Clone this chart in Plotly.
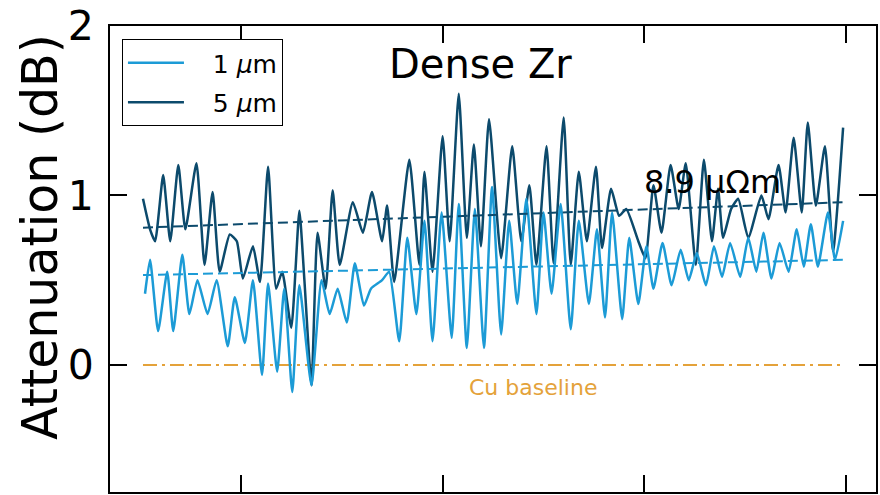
import plotly.graph_objects as go

# Frequency sweep (GHz) and measured attenuation (dB) for dense Zr lines
freq_1um = [10.5, 11.0, 11.8, 12.7, 13.3, 14.2, 14.9, 15.7, 16.7, 17.6, 18.7, 19.4, 20.4, 21.2,
            22.1, 22.7, 23.6, 24.3, 25.1, 25.8, 27.0, 28.0, 28.8, 29.6, 30.5, 31.3, 32.2, 32.9,
            34.0, 34.7, 35.7, 36.5, 37.4, 38.2, 39.0, 39.9, 40.9, 41.6, 42.4, 43.2, 44.1, 44.9,
            45.8, 46.6, 47.4, 48.3, 49.3, 50.0, 50.8, 51.7, 52.7, 53.5, 54.5, 55.3, 56.1, 56.8,
            57.8, 58.5, 59.4, 60.2, 60.9, 61.8, 62.7, 63.6, 64.4, 65.2, 66.1, 66.9, 67.7, 68.5,
            69.5, 70.3, 71.1, 71.8, 72.6, 73.4, 74.3, 75.1, 75.8, 76.5, 77.2, 78.2, 78.9, 79.7]
atten_1um = [0.42, 0.62, 0.20, 0.55, 0.20, 0.65, 0.30, 0.50, 0.30, 0.50, 0.11, 0.40, 0.13, 0.50,
             -0.06, 0.48, -0.04, 0.45, -0.16, 0.47, -0.12, 0.50, 0.30, 0.45, 0.25, 0.60, 0.35, 0.45,
             0.50, 0.55, 0.14, 0.75, 0.30, 0.85, 0.14, 0.90, 0.16, 0.95, 0.10, 0.92, 0.10, 1.05,
             0.18, 0.85, 0.36, 0.98, 0.30, 0.90, 0.42, 0.95, 0.21, 0.85, 0.36, 0.80, 0.28, 0.90,
             0.27, 0.75, 0.36, 0.70, 0.45, 0.72, 0.47, 0.68, 0.50, 0.66, 0.47, 0.70, 0.52, 0.72,
             0.52, 0.75, 0.55, 0.78, 0.51, 0.72, 0.55, 0.80, 0.58, 0.83, 0.58, 0.90, 0.62, 0.85]

freq_5um = [10.3, 11.0, 11.5, 12.3, 13.0, 13.8, 14.5, 15.6, 16.4, 17.2, 17.9, 18.9, 19.6, 20.2,
            21.2, 21.9, 22.7, 23.5, 24.1, 25.0, 25.8, 26.3, 27.0, 27.6, 28.4, 29.1, 29.8, 31.1,
            32.1, 33.0, 34.0, 34.5, 35.2, 36.7, 37.7, 38.2, 39.0, 40.0, 40.7, 41.6, 42.4, 43.1,
            43.8, 44.6, 45.8, 46.9, 47.8, 48.6, 49.3, 50.3, 51.0, 52.0, 52.7, 53.5, 54.3, 55.2,
            55.8, 56.7, 57.5, 58.2, 59.4, 60.1, 60.9, 61.7, 62.6, 63.4, 64.1, 65.1, 65.9, 66.7,
            67.3, 67.8, 68.6, 69.3, 70.3, 71.6, 72.3, 73.3, 74.0, 74.8, 75.6, 76.2, 77.0, 77.9,
            78.7, 79.7]
atten_5um = [0.98, 0.80, 0.73, 1.12, 0.73, 1.18, 0.80, 1.19, 0.59, 1.02, 0.55, 0.77, 0.73, 0.51,
             0.70, 0.49, 1.17, 0.45, 0.55, 0.22, 0.91, 0.50, -0.12, 0.78, 0.45, 1.03, 0.59, 0.96,
             0.78, 1.02, 0.73, 0.94, 0.49, 1.21, 0.59, 1.14, 0.55, 1.35, 0.73, 1.60, 0.75, 1.30,
             0.70, 1.45, 0.63, 1.29, 0.73, 1.06, 0.59, 1.29, 0.60, 1.46, 0.59, 1.14, 0.73, 1.17,
             0.69, 1.04, 0.88, 0.92, 0.73, 0.63, 1.06, 0.78, 1.18, 0.92, 1.19, 0.59, 1.21, 0.73,
             1.04, 0.75, 0.92, 0.98, 0.75, 1.00, 0.86, 1.18, 0.90, 1.34, 0.90, 1.43, 0.94, 1.29,
             0.67, 1.40]

# Linear fits (end points) and the Cu reference level
fit_freq = [10.3, 79.7]
fit_1um = [0.53, 0.62]
fit_5um = [0.81, 0.96]
cu_level = [0.0, 0.0]

C_1UM = "#1c9bd6"
C_5UM = "#0c4a6c"
C_CU = "#e4a23a"
FONT = "DejaVu Sans"
NB = "\u00a0"

fig = go.Figure()

fig.add_trace(go.Scatter(x=fit_freq, y=cu_level, mode="lines", showlegend=False,
                         line=dict(color=C_CU, width=2, dash="14px,5px,3px,5px")))
fig.add_trace(go.Scatter(x=freq_5um, y=atten_5um, mode="lines", name=NB * 3 + "5 <i>μ</i>m",
                         legendrank=2, legendgroup="b",
                         line=dict(color=C_5UM, width=2.5, shape="spline", smoothing=0.5)))
fig.add_trace(go.Scatter(x=freq_1um, y=atten_1um, mode="lines", name=NB * 3 + "1 <i>μ</i>m",
                         legendrank=1, legendgroup="a",
                         line=dict(color=C_1UM, width=2.5, shape="spline", smoothing=0.5)))
fig.add_trace(go.Scatter(x=fit_freq, y=fit_5um, mode="lines", showlegend=False,
                         line=dict(color=C_5UM, width=2, dash="10px,5px")))
fig.add_trace(go.Scatter(x=fit_freq, y=fit_1um, mode="lines", showlegend=False,
                         line=dict(color=C_1UM, width=2, dash="10px,5px")))

fig.add_annotation(x=0.484, y=0.919, xref="paper", yref="paper", text="Dense Zr",
                   xanchor="center", yanchor="middle", showarrow=False,
                   font=dict(family=FONT, size=40, color="black"))
fig.add_annotation(x=66.8, y=1.08, text="8.9 μΩm", showarrow=False,
                   font=dict(family=FONT, size=32, color="black"))
fig.add_annotation(x=49.0, y=-0.135, text="Cu baseline", showarrow=False,
                   font=dict(family=FONT, size=22, color=C_CU))
fig.add_annotation(x=-0.091, y=0.548, xref="paper", yref="paper", text="Attenuation (dB)",
                   textangle=-90, xanchor="center", yanchor="middle", showarrow=False,
                   font=dict(family=FONT, size=49, color="black"))

axis_common = dict(showline=True, linecolor="black", linewidth=2, mirror="ticks",
                   ticks="inside", ticklen=17, tickwidth=2, tickcolor="black",
                   showgrid=False, zeroline=False)

fig.update_xaxes(range=[7.03, 82.96], tickvals=[20, 40, 60, 80], showticklabels=False,
                 **axis_common)
fig.update_yaxes(range=[-0.75, 2.0], tickvals=[0, 1, 2], ticktext=["0", "1", "2"],
                 tickfont=dict(family=FONT, size=41, color="black"), ticklabelstandoff=6,
                 **axis_common)

fig.update_layout(
    width=880, height=495,
    margin=dict(l=110, r=2, t=24, b=3),
    paper_bgcolor="white", plot_bgcolor="white",
    font=dict(family=FONT, color="black"),
    legend=dict(x=0.0156, y=0.972, xanchor="left", yanchor="top",
                bgcolor="white", bordercolor="black", borderwidth=1,
                font=dict(family=FONT, size=25, color="black"),
                itemwidth=56, tracegroupgap=4),
)

fig.write_html("out.html")
